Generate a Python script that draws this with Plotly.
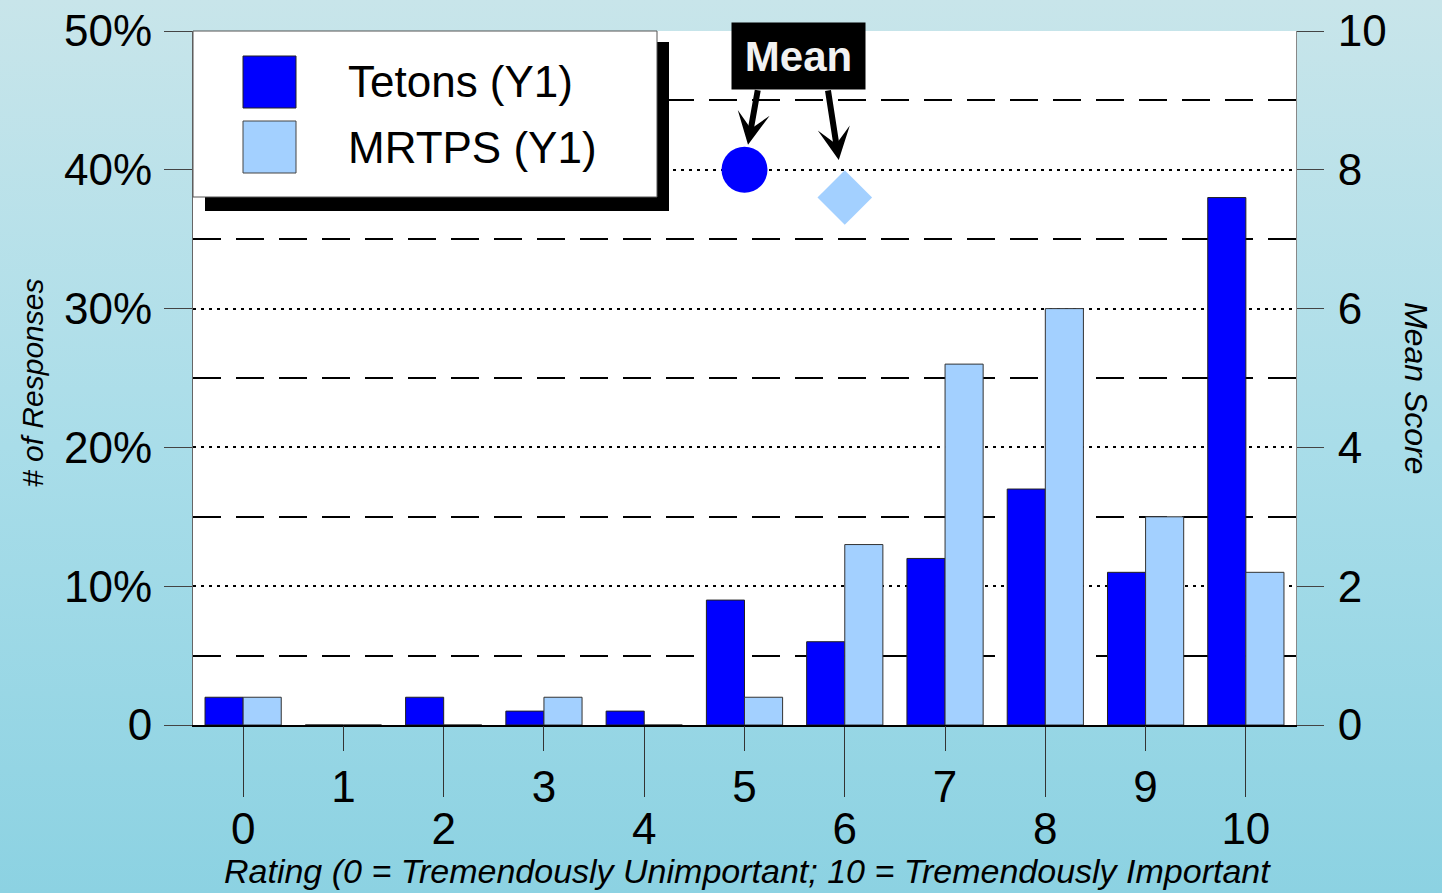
import base64
import plotly.graph_objects as go

# ---------------- data ----------------
ratings = list(range(11))
tetons_pct = [2, 0, 2, 1, 1, 9, 6, 12, 17, 11, 38]
mrtps_pct = [2, 0, 0, 2, 0, 2, 13, 26, 30, 15, 11]
series_names = ["Tetons (Y1)", "MRTPS (Y1)"]
mean_positions = [5, 6]
mean_scores = [8.0, 7.6]
left_tickvals = [0, 10, 20, 30, 40, 50]
left_ticktext = ["0", "10%", "20%", "30%", "40%", "50%"]
minor_tickvals = [5, 15, 25, 35, 45]
right_tickvals = [0, 2, 4, 6, 8, 10]
even_ticks = [0, 2, 4, 6, 8, 10]
odd_ticks = [1, 3, 5, 7, 9]

# ---------------- styling ----------------
DARK = "#0000FF"
LIGHT = "#A3D0FF"
FONT = "Liberation Sans, Arial, sans-serif"

W, H = 1442, 893
L, R, T, B = 193, 146, 31, 168
pw, ph = W - L - R, H - T - B


def fx(px):
    return (px - L) / pw


def fy(py):
    return (H - B - py) / ph


fig = go.Figure()
fig.add_trace(go.Bar(x=ratings, y=tetons_pct, name=series_names[0],
                     marker=dict(color=DARK, line=dict(color="#222", width=1)),
                     showlegend=False))
fig.add_trace(go.Bar(x=ratings, y=mrtps_pct, name=series_names[1],
                     marker=dict(color=LIGHT, line=dict(color="#333", width=1)),
                     showlegend=False))
fig.add_trace(go.Scatter(x=mean_positions, y=mean_scores, xaxis="x2", yaxis="y2",
                         mode="markers",
                         marker=dict(symbol=["circle", "diamond"], size=[46, 42],
                                     color=[DARK, LIGHT], opacity=1, line=dict(width=0)),
                         showlegend=False, hoverinfo="skip"))

# background gradient
svg = (f'<svg xmlns="http://www.w3.org/2000/svg" width="{W}" height="{H}" '
       f'viewBox="0 0 {W} {H}" preserveAspectRatio="none">'
       '<defs><linearGradient id="g" x1="0" y1="0" x2="0" y2="1">'
       '<stop offset="0" stop-color="#c8e5ea"/>'
       '<stop offset="0.5" stop-color="#a9dde9"/>'
       '<stop offset="1" stop-color="#8cd2e2"/>'
       '</linearGradient></defs>'
       f'<rect x="0" y="0" width="{W}" height="{H}" fill="url(#g)"/></svg>')
src = "data:image/svg+xml;base64," + base64.b64encode(svg.encode()).decode()

shapes = [
    dict(type="rect", xref="paper", yref="paper", x0=0, x1=1, y0=0, y1=1,
         fillcolor="white", line=dict(width=0), layer="below"),
    dict(type="rect", xref="paper", yref="paper", x0=fx(205), x1=fx(669),
         y0=fy(211), y1=fy(42), fillcolor="black", line=dict(width=0), layer="above"),
    dict(type="rect", xref="paper", yref="paper", x0=fx(193), x1=fx(657),
         y0=fy(197), y1=fy(31), fillcolor="white", line=dict(color="#555", width=1),
         layer="above"),
    dict(type="rect", xref="paper", yref="paper", x0=fx(243), x1=fx(296),
         y0=fy(108), y1=fy(56), fillcolor=DARK, line=dict(color="#222", width=1),
         layer="above"),
    dict(type="rect", xref="paper", yref="paper", x0=fx(243), x1=fx(296),
         y0=fy(173), y1=fy(121), fillcolor=LIGHT, line=dict(color="#444", width=1),
         layer="above"),
]

annotations = [
    dict(text=series_names[0], xref="paper", yref="paper", x=fx(346), y=fy(82),
         xanchor="left", yanchor="middle", showarrow=False,
         font=dict(family=FONT, size=44, color="black")),
    dict(text=series_names[1], xref="paper", yref="paper", x=fx(346), y=fy(147),
         xanchor="left", yanchor="middle", showarrow=False,
         font=dict(family=FONT, size=44, color="black")),
    dict(text="<b>Mean</b>", xref="paper", yref="paper", x=fx(798), y=fy(56),
         xanchor="center", yanchor="middle", showarrow=False, bgcolor="black",
         width=133, height=66, borderpad=0,
         font=dict(family=FONT, size=42, color="#f2f2f2")),
    dict(text="", xref="x2", yref="y2", x=mean_positions[0] + 0.035, y=mean_scores[0] + 0.36,
         ax=10, ay=-56, showarrow=True, arrowhead=3, arrowsize=0.9, arrowwidth=6,
         arrowcolor="black"),
    dict(text="", xref="x2", yref="y2", x=mean_positions[1] - 0.06, y=mean_scores[1] + 0.54,
         ax=-11, ay=-71, showarrow=True, arrowhead=3, arrowsize=0.9, arrowwidth=6,
         arrowcolor="black"),
    dict(text="<i># of Responses</i>", xref="paper", yref="paper", x=fx(32), y=fy(383),
         textangle=-90, showarrow=False, xanchor="center", yanchor="middle",
         font=dict(family=FONT, size=30, color="black")),
    dict(text="<i>Mean Score</i>", xref="paper", yref="paper", x=fx(1416), y=fy(388),
         textangle=90, showarrow=False, xanchor="center", yanchor="middle",
         font=dict(family=FONT, size=32, color="black")),
    dict(text="<i>Rating (0 = Tremendously Unimportant; 10 = Tremendously Important</i>",
         xref="paper", yref="paper", x=fx(747), y=fy(871), showarrow=False,
         xanchor="center", yanchor="middle",
         font=dict(family=FONT, size=34, color="black")),
]

fig.update_layout(
    width=W, height=H,
    margin=dict(l=L, r=R, t=T, b=B, pad=0, autoexpand=False),
    paper_bgcolor="#a9dde9",
    plot_bgcolor="white",
    barmode="group", bargap=0.24, bargroupgap=0,
    font=dict(family=FONT, size=44, color="black"),
    images=[dict(source=src, xref="paper", yref="paper", x=fx(0), y=fy(0),
                 sizex=W / pw, sizey=H / ph, xanchor="left", yanchor="top",
                 sizing="stretch", layer="below")],
    shapes=shapes,
    annotations=annotations,
    xaxis=dict(range=[-0.5, 10.5], tickmode="array", tickvals=even_ticks,
               ticktext=[str(v) for v in even_ticks], ticks="outside", ticklen=70,
               tickcolor="#333", tickwidth=1, showline=True, linecolor="black",
               linewidth=1.5, showgrid=False, zeroline=False, automargin=False,
               ticklabelstandoff=-6,
               tickfont=dict(family=FONT, size=44, color="black")),
    xaxis2=dict(range=[-0.5, 10.5], overlaying="x", anchor="y", side="bottom",
                tickmode="array", tickvals=odd_ticks,
                ticktext=[str(v) for v in odd_ticks], ticks="outside", ticklen=25,
                tickcolor="#333", tickwidth=1, showline=False, showgrid=False,
                zeroline=False, automargin=False, ticklabelstandoff=-2,
                tickfont=dict(family=FONT, size=44, color="black")),
    yaxis=dict(range=[0, 50], tickmode="array", tickvals=left_tickvals,
               ticktext=left_ticktext, ticks="outside", ticklen=28, tickcolor="#444",
               tickwidth=1, showline=True, linecolor="#666", linewidth=1,
               showgrid=True, gridcolor="black", gridwidth=1.5, griddash="3px,5px",
               zeroline=False, automargin=False, ticklabelstandoff=3,
               minor=dict(tickmode="array", tickvals=minor_tickvals, showgrid=True,
                          gridcolor="black", gridwidth=2, griddash="28px,15px", ticks=""),
               tickfont=dict(family=FONT, size=44, color="black")),
    yaxis2=dict(range=[0, 10], overlaying="y", side="right", anchor="x",
                tickmode="array", tickvals=right_tickvals, ticks="outside", ticklen=27,
                tickcolor="#444", tickwidth=1, showline=True, linecolor="#888",
                linewidth=1, showgrid=False, zeroline=False, automargin=False,
                ticklabelstandoff=5,
                tickfont=dict(family=FONT, size=44, color="black")),
)

fig.write_html("out.html")
